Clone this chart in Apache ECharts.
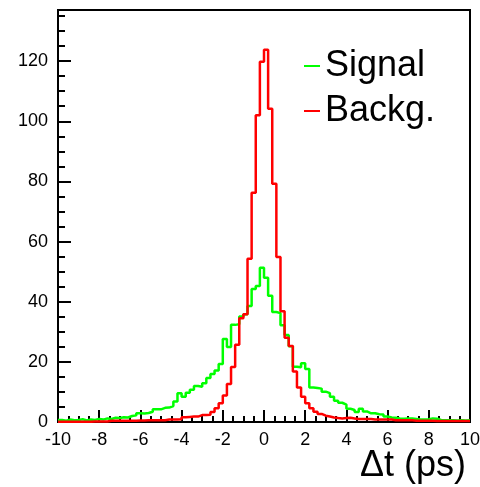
<!DOCTYPE html>
<html>
<head>
<meta charset="utf-8">
<script src="https://cdn.jsdelivr.net/npm/echarts@6/dist/echarts.min.js"></script>
<style>
  html, body { margin: 0; padding: 0; background: #fff; }
  #chart { width: 480px; height: 487px; }
</style>
</head>
<body>
<div id="chart"></div>
<script>
// 100 bins of 0.2 ps from -10 to 10
const binLow = -10;
const binWidth = 0.2;

const signal = [
    0.7, 0.4, 0.8, 0.6, 0.7, 0.9, 0.5, 0.8, 0.7, 1.0,
    0.8, 1.2, 1.0, 1.4, 1.3, 1.6, 1.5, 2.0, 2.2, 2.9,
    2.8, 3.0, 3.4, 4.2, 4.2, 4.7, 4.8, 5.3, 6.8, 9.6,
    8.4, 9.7, 10.7, 12.0, 11.7, 12.9, 14.6, 16.0, 17.1, 19.3,
    27.6, 24.9, 32.3, 32.5, 35.1, 35.8, 38.6, 44.2, 45.2, 51.3,
    48.0, 42.0, 36.6, 36.2, 32.2, 28.9, 25.2, 18.4, 18.2, 19.5,
    17.6, 11.5, 11.3, 11.1, 10.1, 9.6, 8.4, 7.1, 6.4, 5.8,
    4.4, 4.0, 3.3, 4.4, 3.5, 2.9, 2.9, 2.6, 2.5, 1.8,
    1.5, 1.4, 1.2, 1.1, 1.2, 1.2, 1.0, 0.8, 0.8, 0.9,
    1.2, 1.1, 0.7, 0.6, 0.6, 0.6, 0.5, 0.6, 0.5, 0.6
];

const background = [
    0.1, 0.1, 0.1, 0.1, 0.1, 0.1, 0.1, 0.1, 0.2, 0.2,
    0.2, 0.2, 0.4, 0.4, 0.4, 0.4, 0.4, 0.4, 0.4, 0.5,
    0.5, 0.6, 0.6, 0.6, 0.6, 0.6, 0.8, 0.8, 0.8, 0.9,
    1.6, 1.7, 1.8, 1.8, 2.3, 2.3, 2.4, 3.3, 4.6, 6.2,
    8.8, 12.6, 18.3, 25.7, 34.5, 35.8, 54.3, 76.2, 102.0, 119.8,
    123.8, 104.2, 79.2, 54.9, 36.8, 28.0, 25.3, 16.8, 11.5, 8.4,
    6.2, 4.6, 3.4, 2.7, 2.1, 1.8, 1.5, 1.3, 1.2, 1.3,
    1.4, 1.2, 1.0, 1.0, 1.0, 1.0, 0.8, 0.8, 0.8, 0.8,
    0.8, 0.6, 0.6, 0.6, 0.6, 0.6, 0.4, 0.4, 0.4, 0.4,
    0.4, 0.3, 0.3, 0.3, 0.3, 0.3, 0.3, 0.3, 0.3, 0.3
];

const seriesNames = ['Signal', 'Backg.'];
const seriesColors = ['#00ff00', '#ff0000'];
const xTitle = 'Δt (ps)';

// turn bin contents into step points (low edge of each bin, plus the last upper edge)
function histPoints(values) {
    let pts = [];
    for (let i = 0; i < values.length; i++) {
        pts.push([+(binLow + i * binWidth).toFixed(2), values[i]]);
    }
    pts.push([binLow + values.length * binWidth, values[values.length - 1]]);
    return pts;
}

const font = '"Liberation Sans", Arial, Helvetica, sans-serif';

let chart = echarts.init(document.getElementById('chart'));
let option = {
    animation: false,
    backgroundColor: '#fff',
    grid: {
        left: 58, right: 10, top: 10, bottom: 65,
        outerBoundsMode: 'none',
        containLabel: false,
        show: true, borderColor: '#000', borderWidth: 2
    },
    xAxis: {
        type: 'value',
        min: -10, max: 10, interval: 2,
        axisLine: { onZero: false, lineStyle: { color: '#000', width: 2 } },
        axisTick: { inside: true, length: 12, lineStyle: { color: '#000', width: 2 } },
        minorTick: { show: true, splitNumber: 4, length: 6, lineStyle: { color: '#000', width: 2 } },
        splitLine: { show: false },
        axisLabel: { color: '#000', fontSize: 18, fontFamily: font, margin: 9 }
    },
    yAxis: [{
        type: 'value',
        position: 'left',
        min: 0, max: 137, interval: 20,
        axisLine: { onZero: false, lineStyle: { color: '#000', width: 2 } },
        axisTick: { inside: true, length: 13, lineStyle: { color: '#000', width: 2 } },
        splitLine: { show: false },
        axisLabel: { color: '#000', fontSize: 18, fontFamily: font, margin: 10, showMaxLabel: false }
    }, {
        type: 'value',
        position: 'left',
        offset: 0,
        min: 0, max: 137, interval: 5,
        axisLine: { show: false, onZero: false },
        axisTick: { inside: true, length: 7, lineStyle: { color: '#000', width: 2 } },
        splitLine: { show: false },
        axisLabel: { show: false }
    }],
    legend: seriesNames.map(function (name, i) {
        return {
            data: [name],
            left: 299,
            top: 43 + i * 45,
            icon: 'rect',
            itemWidth: 16,
            itemHeight: 2,
            textStyle: { color: '#000', fontSize: 36, fontFamily: font }
        };
    }),
    graphic: [{
        type: 'text',
        x: 466,
        y: 466,
        style: {
            text: xTitle,
            fill: '#000',
            font: '36px ' + font,
            align: 'right',
            verticalAlign: 'middle'
        }
    }],
    series: [
        {
            name: seriesNames[0],
            type: 'line',
            step: 'end',
            showSymbol: false,
            color: seriesColors[0],
            lineStyle: { color: seriesColors[0], width: 2.5 },
            data: histPoints(signal)
        },
        {
            name: seriesNames[1],
            type: 'line',
            step: 'end',
            showSymbol: false,
            color: seriesColors[1],
            lineStyle: { color: seriesColors[1], width: 2.5 },
            data: histPoints(background)
        }
    ]
};
chart.setOption(option);
</script>
</body>
</html>
